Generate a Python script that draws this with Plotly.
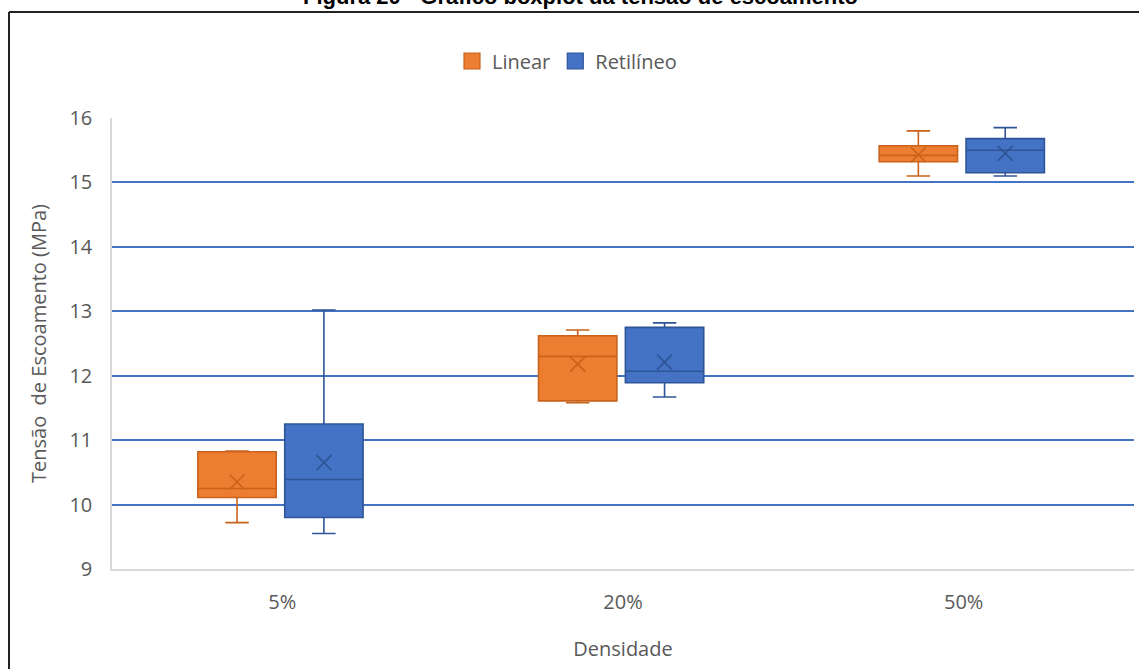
import plotly.graph_objects as go

categories = ["5%", "20%", "50%"]
series = ["Linear", "Retilíneo"]

lin_low = [9.72, 11.58, 15.10]
lin_q1 = [10.11, 11.61, 15.32]
lin_med = [10.25, 12.30, 15.42]
lin_q3 = [10.82, 12.62, 15.57]
lin_high = [10.83, 12.71, 15.80]
lin_mean = [10.35, 12.18, 15.43]

ret_low = [9.55, 11.67, 15.10]
ret_q1 = [9.80, 11.89, 15.15]
ret_med = [10.39, 12.07, 15.50]
ret_q3 = [11.25, 12.75, 15.68]
ret_high = [13.02, 12.82, 15.85]
ret_mean = [10.65, 12.21, 15.45]

fills = ["#ED7D31", "#4472C4"]
edges = ["#C9621B", "#2F5597"]
offsets = [-0.133, 0.122]

W, H = 1139, 669
L, R, T, B = 112, 5, 118, 100
pw, ph = W - L - R, H - T - B

fig = go.Figure()
data = [
    (lin_low, lin_q1, lin_med, lin_q3, lin_high, lin_mean),
    (ret_low, ret_q1, ret_med, ret_q3, ret_high, ret_mean),
]
for i, (lo, q1, md, q3, hi, mn) in enumerate(data):
    xs = [j + offsets[i] for j in range(len(categories))]
    fig.add_trace(go.Box(
        x=xs, lowerfence=lo, q1=q1, median=md, q3=q3, upperfence=hi,
        name=series[i], fillcolor=fills[i], showlegend=False,
        line=dict(color=edges[i], width=1.6),
        width=0.23, whiskerwidth=0.3, boxpoints=False,
        hoverinfo="skip",
    ))
    fig.add_trace(go.Scatter(
        x=xs, y=mn, mode="markers", showlegend=False,
        marker=dict(symbol="x-thin", size=15,
                    line=dict(color=edges[i], width=1.6)),
        hoverinfo="skip",
    ))
    # legend entry
    fig.add_trace(go.Scatter(
        x=[None], y=[None], mode="markers", name=series[i],
        marker=dict(symbol="square", size=19, color=fills[i],
                    line=dict(color=edges[i], width=1.2)),
    ))

font_fam = "'Open Sans', sans-serif"
fig.update_layout(
    width=W, height=H,
    margin=dict(l=L, r=R, t=T, b=B),
    paper_bgcolor="white", plot_bgcolor="white",
    font=dict(family=font_fam, size=20, color="#595959"),
    showlegend=True,
    legend=dict(orientation="h", x=(567 - L) / pw, xanchor="center",
                y=(569 - 61) / ph, yanchor="middle",
                font=dict(size=20, color="#595959"),
                itemwidth=30, tracegroupgap=0),
    xaxis=dict(range=[-0.5, 2.5], tickvals=[0, 1, 2], ticktext=categories,
               showgrid=False, zeroline=False, showline=True,
               linecolor="#D9D9D9", linewidth=1.5, ticks="",
               tickfont=dict(size=20), ticklabelstandoff=14,
               title=dict(text="Densidade", font=dict(size=20), standoff=28)),
    yaxis=dict(range=[9, 16], dtick=1, showgrid=True,
               gridcolor="#4472C4", gridwidth=1.5, zeroline=False,
               showline=True, linecolor="#D9D9D9", linewidth=1.5,
               tickfont=dict(size=20), ticks="", ticklabelstandoff=14,
               title=dict(text="Tensão  de Escoamento (MPa)",
                          font=dict(size=20), standoff=17)),
)

# partially visible title at top and frame lines (as in the reference crop)
fig.add_annotation(
    text="<b>Figura 20 - Gráfico boxplot da tensão de escoamento</b>",
    xref="paper", yref="paper",
    x=(580 - L) / pw, y=(569 + 3) / ph,
    xanchor="center", yanchor="middle", showarrow=False,
    font=dict(family="Liberation Sans, Arial, sans-serif", size=22, color="#000000"),
)
fig.add_shape(type="line", xref="paper", yref="paper",
              x0=(9 - L) / pw, x1=(W - L) / pw,
              y0=(569 - 12) / ph, y1=(569 - 12) / ph,
              line=dict(color="#222222", width=2))
fig.add_shape(type="line", xref="paper", yref="paper",
              x0=(9 - L) / pw, x1=(9 - L) / pw,
              y0=(569 - 12) / ph, y1=(569 - H) / ph,
              line=dict(color="#222222", width=2))

fig.write_html("out.html")
